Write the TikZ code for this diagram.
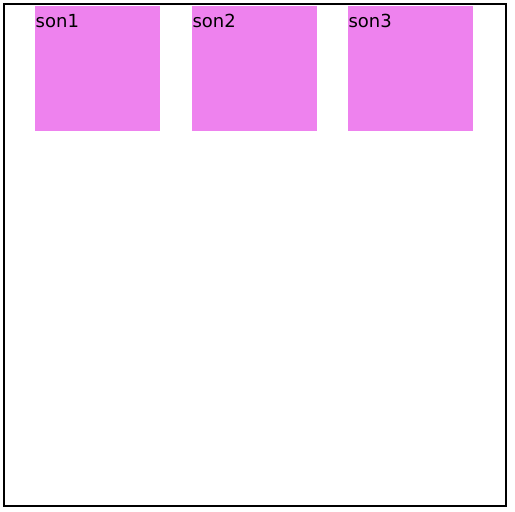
\documentclass[tikz,border=0pt]{standalone}
\usepackage{fontspec}
\setmainfont{DejaVu Sans}
\usepackage{xcolor}
\usepackage{tikz}
\usetikzlibrary{positioning}
\definecolor{violetbox}{HTML}{EE82EE}
\tikzstyle{parentbox} = [rectangle, draw=black, line width=2pt, minimum width=502pt, minimum height=502pt, inner sep=0pt]
\tikzstyle{sonbox} = [rectangle, fill=violetbox, minimum width=125pt, minimum height=125pt, inner sep=0pt, anchor=north west]
\tikzstyle{sontext} = [anchor=base west, inner sep=0pt, xshift=0.5pt, yshift=-21.5pt, font=\fontsize{18}{22}\selectfont]

\begin{document}
\begin{tikzpicture}[x=1pt, y=-1pt, node distance=32pt]
    \useasboundingbox (0,0) rectangle (515,512);
    % Parent container
    \node[parentbox] (parent) at (255,255) {};
    
    % Children
    \node[sonbox] (son1) at (35,6) {};
    \node[sonbox, right=31.5pt of son1] (son2) {};
    \node[sonbox, right=30.5pt of son2] (son3) {};
    \node[sontext] at (son1.north west) {son1};
    \node[sontext] at (son2.north west) {son2};
    \node[sontext] at (son3.north west) {son3};
\end{tikzpicture}
\end{document}
